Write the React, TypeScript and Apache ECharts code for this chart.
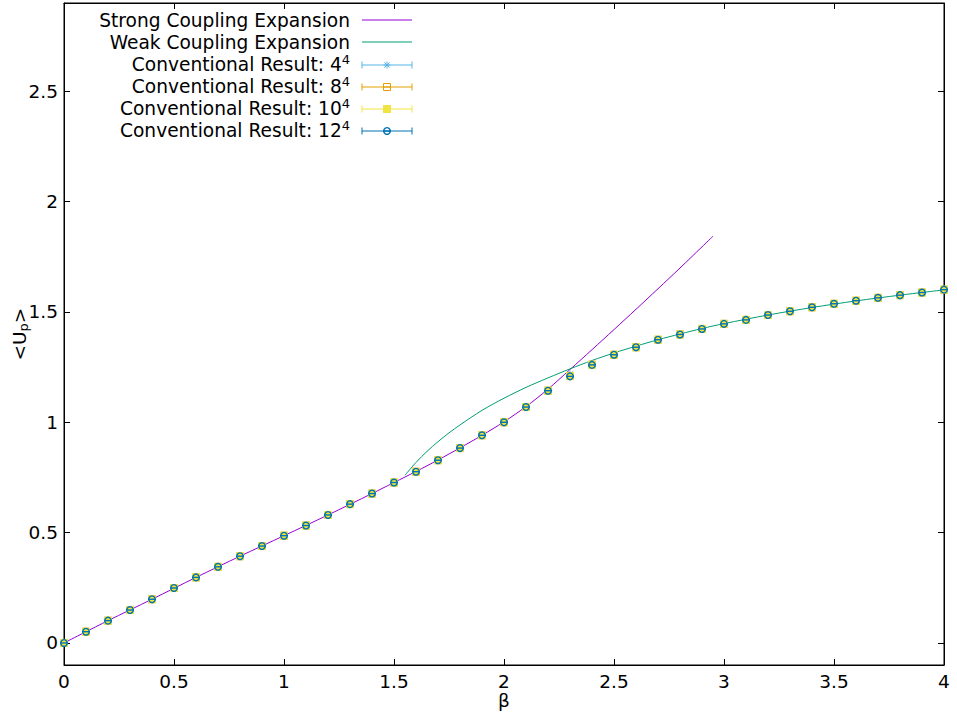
import React, { useEffect, useRef } from "react";
import * as echarts from "echarts";

const FONT = "DejaVu Sans";

// Strong coupling expansion curve
const strongBeta = [0, 0.2, 0.4, 0.6, 0.8, 1.0, 1.2, 1.4, 1.5, 1.6, 1.7, 1.8, 1.9, 2.0, 2.1, 2.2, 2.3, 2.4, 2.5, 2.6, 2.7, 2.8, 2.9, 2.95];
const strongU = [0, 0.101, 0.198, 0.297, 0.393, 0.486, 0.58, 0.677, 0.727, 0.777, 0.829, 0.884, 0.941, 1.002, 1.071, 1.15, 1.239, 1.329, 1.42, 1.512, 1.605, 1.699, 1.795, 1.843];

// Weak coupling expansion curve
const weakBeta = [1.55, 1.6, 1.65, 1.7, 1.75, 1.8, 1.9, 2.0, 2.1, 2.2, 2.3, 2.4, 2.5, 2.6, 2.7, 2.8, 2.9, 3.0, 3.2, 3.4, 3.6, 3.8, 4.0];
const weakU = [0.76, 0.818, 0.868, 0.912, 0.952, 0.988, 1.054, 1.109, 1.158, 1.201, 1.242, 1.28, 1.314, 1.345, 1.374, 1.4, 1.425, 1.447, 1.486, 1.52, 1.55, 1.576, 1.6];

// Conventional results
const convBeta = [0, 0.1, 0.2, 0.3, 0.4, 0.5, 0.6, 0.7, 0.8, 0.9, 1.0, 1.1, 1.2, 1.3, 1.4, 1.5, 1.6, 1.7, 1.8, 1.9, 2.0, 2.1, 2.2, 2.3, 2.4, 2.5, 2.6, 2.7, 2.8, 2.9, 3.0, 3.1, 3.2, 3.3, 3.4, 3.5, 3.6, 3.7, 3.8, 3.9, 4.0];
const conv12 = [0, 0.051, 0.101, 0.149, 0.198, 0.249, 0.297, 0.345, 0.393, 0.439, 0.486, 0.532, 0.58, 0.629, 0.677, 0.727, 0.776, 0.828, 0.883, 0.941, 1.0, 1.069, 1.143, 1.208, 1.26, 1.306, 1.34, 1.374, 1.398, 1.423, 1.446, 1.464, 1.486, 1.503, 1.521, 1.537, 1.551, 1.564, 1.576, 1.588, 1.601];
const conv10 = [0, 0.051, 0.101, 0.149, 0.198, 0.249, 0.297, 0.345, 0.393, 0.439, 0.486, 0.532, 0.58, 0.629, 0.677, 0.727, 0.776, 0.828, 0.883, 0.941, 1.0, 1.069, 1.143, 1.209, 1.26, 1.306, 1.34, 1.374, 1.398, 1.423, 1.446, 1.464, 1.486, 1.503, 1.521, 1.537, 1.551, 1.564, 1.576, 1.588, 1.601];
const conv8 = [0, 0.051, 0.101, 0.149, 0.198, 0.249, 0.297, 0.345, 0.393, 0.439, 0.486, 0.532, 0.58, 0.629, 0.677, 0.727, 0.776, 0.828, 0.883, 0.941, 1.0, 1.069, 1.143, 1.21, 1.261, 1.306, 1.34, 1.374, 1.398, 1.423, 1.446, 1.464, 1.486, 1.503, 1.521, 1.537, 1.551, 1.564, 1.576, 1.588, 1.601];
const conv4 = [0, 0.051, 0.101, 0.149, 0.198, 0.249, 0.297, 0.345, 0.393, 0.439, 0.486, 0.532, 0.58, 0.629, 0.677, 0.727, 0.776, 0.828, 0.883, 0.941, 1.0, 1.069, 1.145, 1.218, 1.265, 1.308, 1.341, 1.375, 1.399, 1.424, 1.446, 1.464, 1.486, 1.503, 1.521, 1.537, 1.551, 1.564, 1.576, 1.588, 1.601];

const yTicks = [0, 0.5, 1, 1.5, 2, 2.5];

const C_STRONG = "#9400d3";
const C_WEAK = "#009e73";
const C4 = "#56b4e9";
const C8 = "#e69f00";
const C10 = "#f0e442";
const C12 = "#0072b2";

type Kind = "star" | "sqOpen" | "sqFill" | "circle";

function markerShapes(kind: Kind, x: number, y: number): any[] {
  const cap = (color: string, lw: number) => ({
    type: "line",
    shape: { x1: x - 4, y1: y, x2: x + 4, y2: y },
    style: { stroke: color, lineWidth: lw },
  });
  if (kind === "star") {
    const s = 3.5, d = 2.6;
    return [
      { type: "line", shape: { x1: x - s, y1: y, x2: x + s, y2: y }, style: { stroke: C4, lineWidth: 1 } },
      { type: "line", shape: { x1: x, y1: y - s, x2: x, y2: y + s }, style: { stroke: C4, lineWidth: 1 } },
      { type: "line", shape: { x1: x - d, y1: y - d, x2: x + d, y2: y + d }, style: { stroke: C4, lineWidth: 1 } },
      { type: "line", shape: { x1: x - d, y1: y + d, x2: x + d, y2: y - d }, style: { stroke: C4, lineWidth: 1 } },
    ];
  }
  if (kind === "sqOpen") {
    return [
      { type: "rect", shape: { x: x - 3.5, y: y - 3.5, width: 7, height: 7 }, style: { stroke: C8, fill: "none", lineWidth: 1 } },
      cap(C8, 1),
    ];
  }
  if (kind === "sqFill") {
    return [
      { type: "rect", shape: { x: x - 4, y: y - 4, width: 8, height: 8 }, style: { fill: C10, stroke: "none" } },
      cap(C10, 1),
    ];
  }
  return [
    { type: "circle", shape: { cx: x, cy: y, r: 3.3 }, style: { stroke: C12, fill: "none", lineWidth: 1.4 } },
    cap(C12, 1.4),
  ];
}

function makeRender(kind: Kind) {
  return (params: any, api: any) => {
    const p = api.coord([api.value(0), api.value(1)]);
    return { type: "group", children: markerShapes(kind, p[0], p[1]) };
  };
}

const pairs = (xs: number[], ys: number[]) => xs.map((v, i) => [v, ys[i]]);

export default function App() {
  const ref = useRef<HTMLDivElement>(null);
  useEffect(() => {
    const chart = echarts.init(ref.current!, null, { renderer: "svg" });

    const legendX = 350;
    const sx1 = 362, sx2 = 412, smid = 387;
    const rowY = [20, 42, 64, 86, 108, 130];
    const labels = [
      "Strong Coupling Expansion",
      "Weak Coupling Expansion",
      "Conventional Result: 4{sup|4}",
      "Conventional Result: 8{sup|4}",
      "Conventional Result: 10{sup|4}",
      "Conventional Result: 12{sup|4}",
    ];
    const graphics: any[] = [];
    labels.forEach((t, i) => {
      graphics.push({
        type: "text",
        x: legendX,
        y: rowY[i],
        style: {
          text: t,
          align: "right",
          verticalAlign: "middle",
          fill: "#000",
          font: `18.6px '${FONT}'`,
          lineHeight: 22,
          rich: {
            sup: { fontSize: 13, fontFamily: FONT, verticalAlign: "top", lineHeight: 13, padding: [0, 0, 9, 0] },
          },
        },
      });
    });
    // y-axis title
    graphics.push({
      type: "text",
      x: 19,
      y: 334,
      rotation: Math.PI / 2,
      style: {
        text: "<U{sub|p}>",
        align: "center",
        verticalAlign: "middle",
        fill: "#000",
        font: `18.5px '${FONT}'`,
        lineHeight: 22,
        rich: {
          sub: { fontSize: 13, fontFamily: FONT, fill: "#000", verticalAlign: "bottom", lineHeight: 13, padding: [9, 0, 0, 0] },
        },
      },
    });
    // x-axis title
    graphics.push({
      type: "text",
      x: 504,
      y: 700,
      style: { text: "β", align: "center", verticalAlign: "middle", fill: "#000", font: `18.5px '${FONT}'`, lineHeight: 18 },
    });
    graphics.push({ type: "line", shape: { x1: sx1, y1: rowY[0], x2: sx2, y2: rowY[0] }, style: { stroke: C_STRONG, lineWidth: 1 } });
    graphics.push({ type: "line", shape: { x1: sx1, y1: rowY[1], x2: sx2, y2: rowY[1] }, style: { stroke: C_WEAK, lineWidth: 1 } });
    const errRows: [Kind, string][] = [["star", C4], ["sqOpen", C8], ["sqFill", C10], ["circle", C12]];
    errRows.forEach(([k, c], j) => {
      const y = rowY[j + 2] + 1;
      graphics.push({ type: "line", shape: { x1: sx1, y1: y, x2: sx2, y2: y }, style: { stroke: c, lineWidth: 1 } });
      graphics.push({ type: "line", shape: { x1: sx1, y1: y - 3.5, x2: sx1, y2: y + 3.5 }, style: { stroke: c, lineWidth: 1 } });
      graphics.push({ type: "line", shape: { x1: sx2, y1: y - 3.5, x2: sx2, y2: y + 3.5 }, style: { stroke: c, lineWidth: 1 } });
      markerShapes(k, smid, y).forEach((g) => graphics.push(g));
    });

    const tickStyle = { show: true, inside: true, length: 6, lineStyle: { color: "#000", width: 1 } };
    const axisLine = { show: true, onZero: false, lineStyle: { color: "#000", width: 1 } };
    const labelStyle = { color: "#000", fontFamily: FONT, fontSize: 18.5 };

    chart.setOption({
      animation: false,
      backgroundColor: "#fff",
      grid: {
        left: 64, right: 13, top: 3, bottom: 49, containLabel: false, outerBoundsMode: "none",
        show: true, borderColor: "#000", borderWidth: 1, backgroundColor: "transparent",
      },
      xAxis: [
        {
          type: "value", min: 0, max: 4, interval: 0.5, position: "bottom",
          axisLine, axisTick: tickStyle, splitLine: { show: false },
          axisLabel: { ...labelStyle, margin: 7, lineHeight: 18 },
        },
        {
          type: "value", min: 0, max: 4, interval: 0.5, position: "top",
          axisLine, axisTick: tickStyle, splitLine: { show: false }, axisLabel: { show: false },
        },
      ],
      yAxis: [
        {
          type: "value", min: -0.1, max: 2.9, position: "left",
          axisLine, splitLine: { show: false },
          axisTick: { ...tickStyle, customValues: yTicks },
          axisLabel: { ...labelStyle, margin: 6, customValues: yTicks },
        },
        {
          type: "value", min: -0.1, max: 2.9, position: "right",
          axisLine, splitLine: { show: false },
          axisTick: { ...tickStyle, customValues: yTicks },
          axisLabel: { show: false, customValues: yTicks },
        },
      ],
      series: [
        {
          name: "Strong Coupling Expansion", type: "line", data: pairs(strongBeta, strongU),
          showSymbol: false, smooth: 0.3, lineStyle: { color: C_STRONG, width: 1 }, z: 2,
        },
        {
          name: "Weak Coupling Expansion", type: "line", data: pairs(weakBeta, weakU),
          showSymbol: false, smooth: 0.3, lineStyle: { color: C_WEAK, width: 1 }, z: 2,
        },
        { name: "Conventional Result: 4^4", type: "custom", renderItem: makeRender("star"), data: pairs(convBeta, conv4), encode: { x: 0, y: 1 }, z: 3 },
        { name: "Conventional Result: 8^4", type: "custom", renderItem: makeRender("sqOpen"), data: pairs(convBeta, conv8), encode: { x: 0, y: 1 }, z: 4 },
        { name: "Conventional Result: 10^4", type: "custom", renderItem: makeRender("sqFill"), data: pairs(convBeta, conv10), encode: { x: 0, y: 1 }, z: 5 },
        { name: "Conventional Result: 12^4", type: "custom", renderItem: makeRender("circle"), data: pairs(convBeta, conv12), encode: { x: 0, y: 1 }, z: 6 },
      ],
      graphic: graphics,
    });
    return () => chart.dispose();
  }, []);
  return <div ref={ref} style={{ position: "fixed", left: 0, top: 0, width: 957, height: 714 }} />;
}
